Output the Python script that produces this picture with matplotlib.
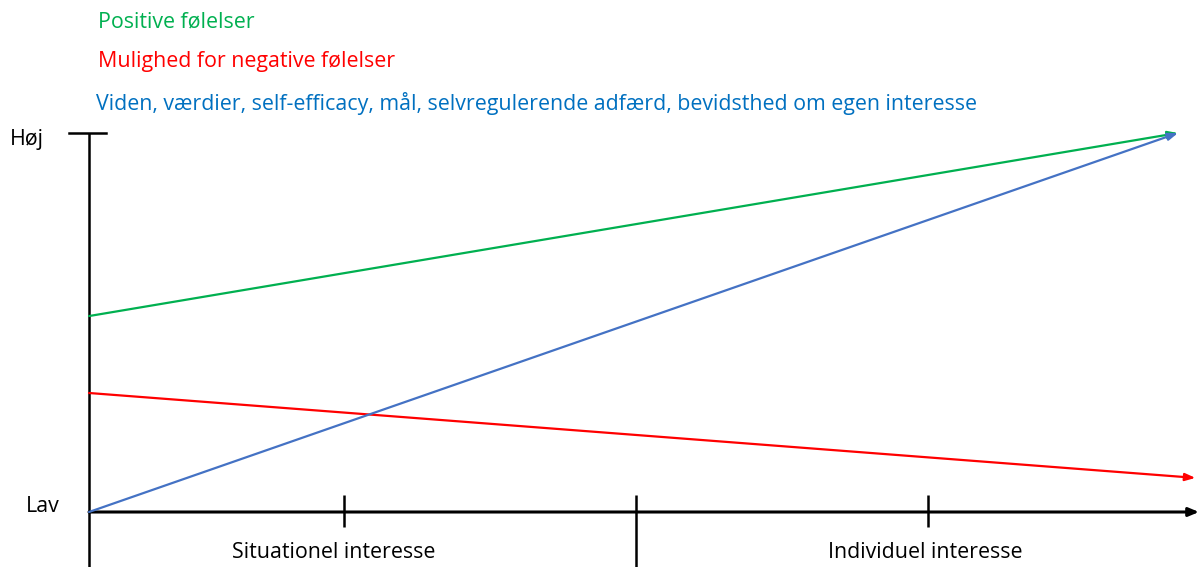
import matplotlib.pyplot as plt

# interest development diagram: x = phase (0..1), y = level (Lav=0, Høj=1)
series_names = ['Positive følelser', 'Mulighed for negative følelser',
                'Viden, værdier, self-efficacy, mål, selvregulerende adfærd, bevidsthed om egen interesse']
series_x = [[0.0, 1.0], [0.0, 1.016], [0.0, 1.0]]
series_y = [[0.517, 1.0], [0.314, 0.09], [0.0, 1.0]]
line_colors = ['#00B050', '#FF0000', '#4472C4']
text_colors = ['#00B050', '#FF0000', '#0070C0']

phase_ticks = [0.234, 0.502, 0.770]
phase_labels = ['Situationel interesse', 'Individuel interesse']
phase_label_x = [0.225, 0.768]
level_labels = ['Lav', 'Høj']

W, H = 1199, 567
x0px, x1px = 89, 1178
y0px, y1px = 512, 133
sx = x1px - x0px
sy = y0px - y1px
FS = 15.4

fig = plt.figure(figsize=(W / 100, H / 100), dpi=100)
ax = fig.add_axes([0, 0, 1, 1])
ax.set_xlim(-x0px / sx, (W - x0px) / sx)
ax.set_ylim((y0px - H) / sy, y0px / sy)
ax.axis('off')
plt.rcParams['font.family'] = ['Open Sans', 'DejaVu Sans']

# axes
ax.annotate('', xy=((1199 - x0px) / sx, 0), xytext=(0, 0),
            arrowprops=dict(arrowstyle='-|>,head_length=0.6,head_width=0.25',
                            color='black', lw=2.2, shrinkA=0, shrinkB=0))
ax.plot([0, 0], [(y0px - H) / sy, 1.0], color='black', lw=1.8, solid_capstyle='butt')
ax.plot([(69 - x0px) / sx, (106 - x0px) / sx], [1.0, 1.0], color='black', lw=1.8)
for i, t in enumerate(phase_ticks):
    bottom = (y0px - 527) / sy if i != 1 else (y0px - H) / sy
    ax.plot([t, t], [(y0px - 495) / sy, bottom], color='black', lw=1.8, solid_capstyle='butt')

# series lines with arrow heads
for xs, ys, c in zip(series_x, series_y, line_colors):
    ax.annotate('', xy=(xs[1], ys[1]), xytext=(xs[0], ys[0]),
                arrowprops=dict(arrowstyle='-|>,head_length=0.6,head_width=0.22',
                                color=c, lw=1.6, shrinkA=0, shrinkB=0))

# legend-like texts
legend_y = [22, 62, 104]
legend_x = [98, 98, 96]
for name, c, px, py in zip(series_names, text_colors, legend_x, legend_y):
    ax.text((px - x0px) / sx, (y0px - py) / sy, name, color=c, fontsize=FS,
            ha='left', va='center')

for lab, lx in zip(phase_labels, phase_label_x):
    ax.text(lx, (y0px - 553) / sy, lab, fontsize=FS, ha='center', va='center')

ax.text((26 - x0px) / sx, (y0px - 507) / sy, level_labels[0], fontsize=FS, ha='left', va='center')
ax.text((10 - x0px) / sx, (y0px - 139) / sy, level_labels[1], fontsize=FS, ha='left', va='center')

fig.savefig('out.png', dpi=100)
